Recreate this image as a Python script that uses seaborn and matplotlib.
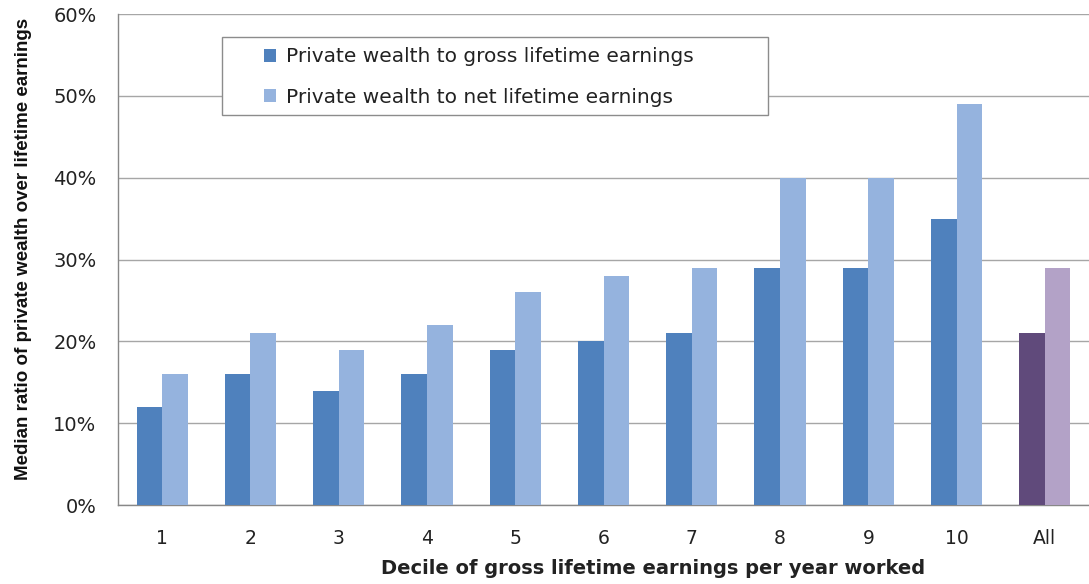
import numpy as np
import pandas as pd
import matplotlib
matplotlib.use("Agg")
import matplotlib.pyplot as plt
import seaborn as sns
from matplotlib.patches import Rectangle

# values (percent)
deciles = ["1", "2", "3", "4", "5", "6", "7", "8", "9", "10", "All"]
gross = [12, 16, 14, 16, 19, 20, 21, 29, 29, 35, 21]
net = [16, 21, 19, 22, 26, 28, 29, 40, 40, 49, 29]

gross_label = "Private wealth to gross lifetime earnings"
net_label = "Private wealth to net lifetime earnings"

df = pd.DataFrame({
    "Decile": deciles * 2,
    "Ratio": gross + net,
    "Series": [gross_label] * len(deciles) + [net_label] * len(deciles),
})

sns.set_style("white")
plt.rcParams["font.family"] = ["DejaVu Sans"]

fig = plt.figure(figsize=(10.89, 5.84), dpi=100)
ax = fig.add_axes([0.1084, 0.135, 0.8916, 0.841])

sns.barplot(data=df, x="Decile", y="Ratio", hue="Series", order=deciles,
            palette=["#4F81BD", "#95B3DE"], width=0.58, saturation=1,
            edgecolor="none", ax=ax, zorder=3)

# "All" bars are drawn in purple
cont_gross, cont_net = ax.containers[0], ax.containers[1]
cont_gross[-1].set_facecolor("#604A7B")
cont_net[-1].set_facecolor("#B3A2C7")

ax.set_ylim(0, 60)
ax.set_xlim(-0.5, len(deciles) - 0.5)
ax.set_yticks(np.arange(0, 61, 10))
ax.set_yticklabels([f"{v}%" for v in range(0, 61, 10)], fontsize=14, color="#222222")
ax.set_xticks(range(len(deciles)))
ax.set_xticklabels(deciles, fontsize=13.5, color="#222222")
ax.set_xticks(np.arange(-0.5, len(deciles), 1), minor=True)
ax.tick_params(axis="x", which="major", length=0, pad=17)
ax.tick_params(axis="x", which="minor", length=4.5, color="#888888", width=1)
ax.tick_params(axis="y", length=6.5, color="#888888", width=1, pad=9)

ax.grid(axis="y", color="#A6A6A6", linewidth=1, zorder=0)
ax.grid(axis="x", visible=False)
for s in ["top", "right"]:
    ax.spines[s].set_visible(False)
for s in ["left", "bottom"]:
    ax.spines[s].set_color("#888888")
    ax.spines[s].set_linewidth(1)

ax.set_xlabel("Decile of gross lifetime earnings per year worked",
              fontsize=14, fontweight="bold", color="#222222", labelpad=8)
ax.xaxis.label.set_x(0.551)
ax.set_ylabel("Median ratio of private wealth over lifetime earnings",
              fontsize=13.5, fontweight="bold", color="#111111", labelpad=15,
              family=["Liberation Sans", "DejaVu Sans"])
ax.yaxis.label.set_y(0.521)

# legend frame drawn as its own box, entries placed inside it
ax.add_patch(Rectangle((0.1071, 0.7943), 0.5623, 0.1589, transform=ax.transAxes,
                       facecolor="white", edgecolor="#8C8C8C", linewidth=1,
                       zorder=4, clip_on=False))
leg = ax.legend(loc="upper left", bbox_to_anchor=(0.150, 0.932), fontsize=14.5,
                frameon=False, handlelength=0.6, handleheight=0.6,
                handletextpad=0.5, borderpad=0, labelspacing=1.05,
                borderaxespad=0)
leg.set_zorder(5)
for t in leg.get_texts():
    t.set_color("#222222")

fig.savefig("out.png", dpi=100)
